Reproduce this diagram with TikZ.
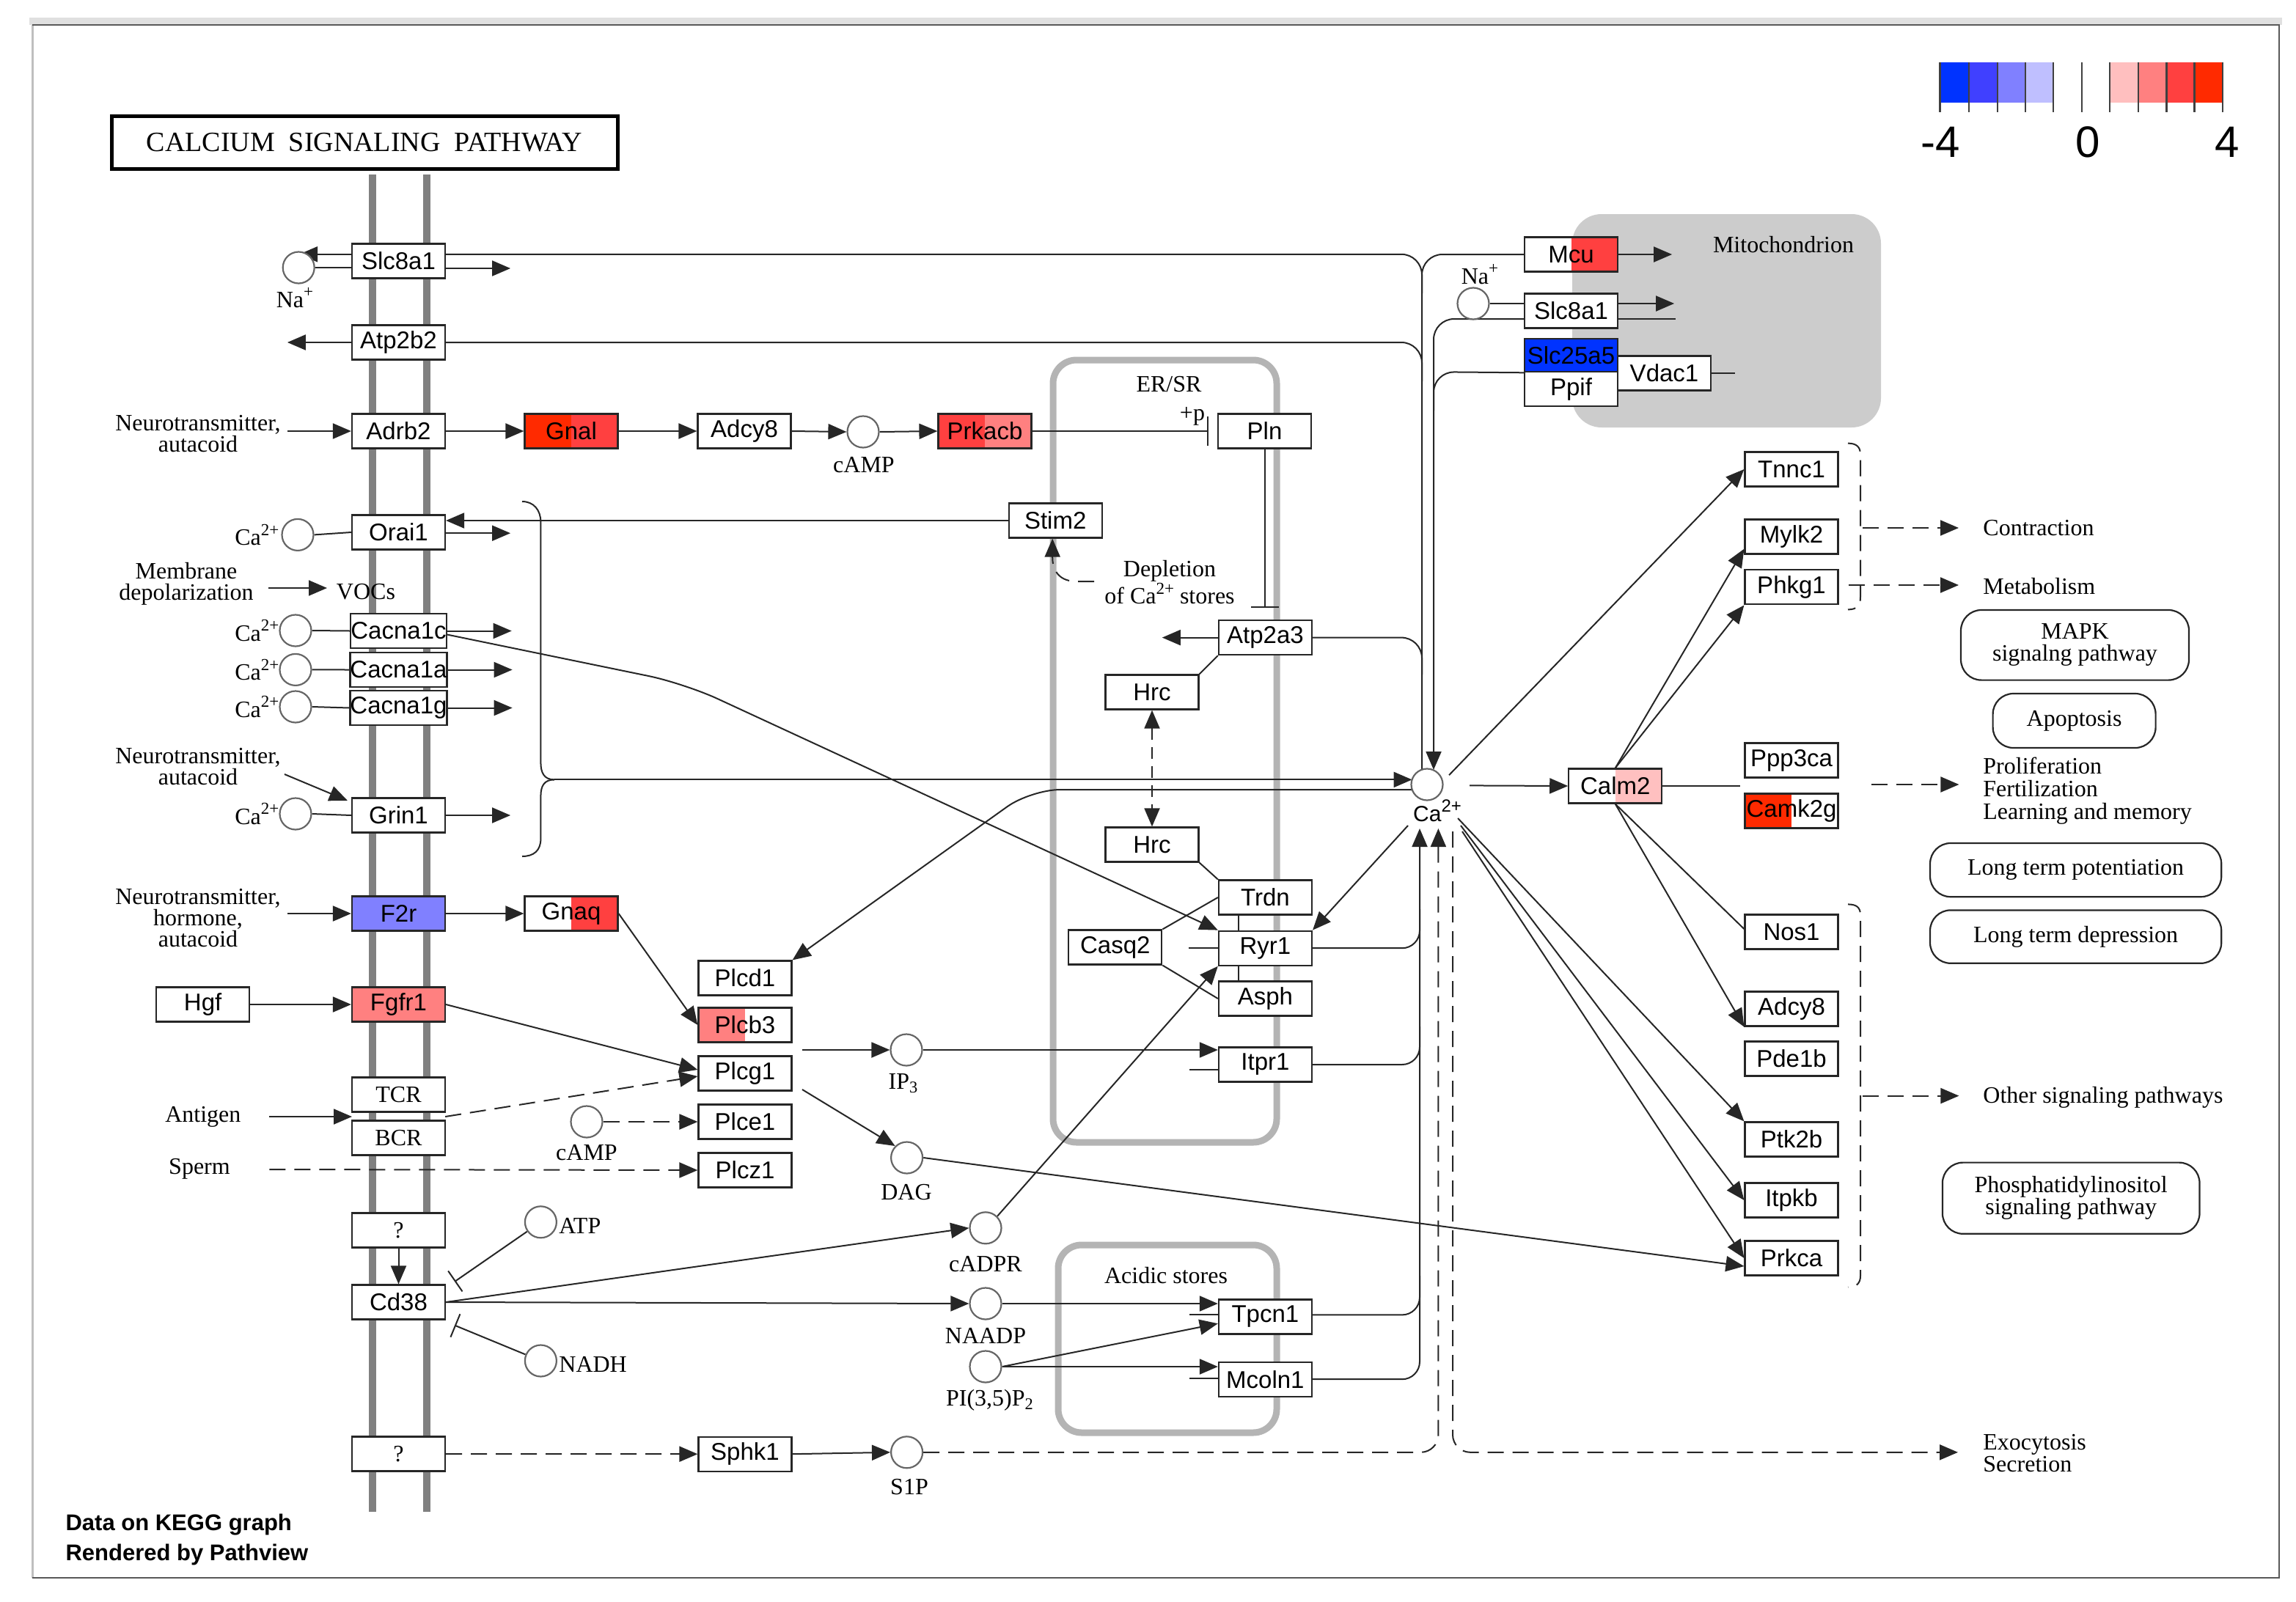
\documentclass[tikz,border=0pt]{standalone}
\usepackage{fontspec}
\setmainfont{Liberation Serif}
\newfontfamily\arialf{Liberation Sans}
\usetikzlibrary{arrows.meta}
\pgfdeclarelayer{bg}
\pgfdeclarelayer{conn}
\pgfsetlayers{bg,conn,main}
\newcommand\upx[1]{\raisebox{0.42em}{\fontsize{11.5}{11.5}\selectfont #1}}
\definecolor{bA}{HTML}{0033FF}
\definecolor{bB}{HTML}{4040FF}
\definecolor{bC}{HTML}{8080FF}
\definecolor{bD}{HTML}{BFBFFF}
\definecolor{rA}{HTML}{FFBFBF}
\definecolor{rB}{HTML}{FF8080}
\definecolor{rC}{HTML}{FF4040}
\definecolor{rD}{HTML}{FF2A00}
\definecolor{pk}{HTML}{FFC0C0}
\definecolor{cmpc}{HTML}{B4B4B4}
\definecolor{mitoc}{HTML}{CCCCCC}
\definecolor{memc}{HTML}{808080}
\tikzset{
 gene/.style={draw=black!85, line width=1.1pt, fill=white, minimum width=63.5pt, minimum height=23.5pt, inner sep=0pt, font=\arialf\fontsize{16.5}{18}\selectfont},
 sgene/.style={gene, font=\fontsize{16}{16}\selectfont},
 lhalf/.style={path picture={\fill[#1] (path picture bounding box.south west) rectangle (path picture bounding box.north);}},
 rhalf/.style={path picture={\fill[#1] (path picture bounding box.south) rectangle (path picture bounding box.north east);}},
 cpd/.style={circle, draw=black!60, line width=1.1pt, fill=white, minimum size=21.5pt, inner sep=0pt},
 lbl/.style={font=\fontsize{16}{14.5}\selectfont, inner sep=0pt, align=center},
 conn/.style={draw=black!85, line width=1pt},
 arr/.style={conn, -{Triangle[length=12.5pt,width=10.5pt]}},
 darr/.style={arr, dash pattern=on 11pt off 6pt},
 dtwo/.style={conn, dash pattern=on 8pt off 5pt, {Triangle[length=12.5pt,width=10.5pt]}-{Triangle[length=12.5pt,width=10.5pt]}},
 dl/.style={conn, dash pattern=on 11pt off 6pt},
 barr/.style={conn, -{Bar[width=17pt]}},
 pw/.style={draw=black!85, line width=1.1pt, rounded corners=14pt, inner sep=0pt, font=\fontsize{16}{15}\selectfont, align=center},
}
\begin{document}
\begin{tikzpicture}[x=1pt,y=-1pt]
\useasboundingbox (0,0) rectangle (1565.5,1092);
\begin{pgfonlayer}{bg}
 \fill[black!12] (20,12) rectangle (1556,17);
 \draw[black!25, line width=1.5pt] (22,17) -- (22,1076);
 \draw[black!65, line width=1.3pt] (22,17) -- (1554,17) -- (1554,1076) -- (22,1076);
 \fill[mitoc, rounded corners=20pt] (1072,146) rectangle (1282.5,291.5);
 \draw[cmpc, line width=4.5pt, rounded corners=16pt] (718,245.5) rectangle (870.5,779);
 \draw[cmpc, line width=4.5pt, rounded corners=16pt] (721.5,849) rectangle (870.5,977);
 \draw[memc, line width=5pt] (254,119) -- (254,1031) (291,119) -- (291,1031);
 % legend
 \fill[bA] (1322.8,42.5) rectangle (1342.5,70);
 \fill[bB] (1342.5,42.5) rectangle (1362,70);
 \fill[bC] (1362,42.5) rectangle (1381,70);
 \fill[bD] (1381,42.5) rectangle (1400,70);
 \fill[rA] (1438.4,42.5) rectangle (1458,70);
 \fill[rB] (1458,42.5) rectangle (1477.3,70);
 \fill[rC] (1477.3,42.5) rectangle (1496.3,70);
 \fill[rD] (1496.3,42.5) rectangle (1515.5,70);
 \foreach \t in {1322.8,1342.5,1362,1381,1400,1419.5,1438.4,1458,1477.3,1496.3,1515.5}
   \draw[black!75, line width=1.2pt] (\t,42.5) -- (\t,76.7);
\end{pgfonlayer}

\node[font=\arialf\fontsize{30}{30}\selectfont, inner sep=0pt] (lm4) at (1323,96.7) {-4};
\node[font=\arialf\fontsize{30}{30}\selectfont, inner sep=0pt] (l0) at (1423.8,96.7) {0};
\node[font=\arialf\fontsize{30}{30}\selectfont, inner sep=0pt] (l4) at (1518.5,96.7) {4};

\node[draw, line width=2.5pt, minimum width=345pt, minimum height=36pt, inner sep=0pt, font=\fontsize{19}{20}\selectfont] (title) at (248.5,97) {CALCIUM\ \ SIGNALING\ \ PATHWAY};

\node[anchor=west, inner sep=0pt, font=\arialf\bfseries\fontsize{15.5}{20.5}\selectfont, align=left] (credit) at (44.6,1050) {Data on KEGG graph\\Rendered by Pathview};

% compartment labels
\node[lbl] (erl) at (797,262) {ER/SR};
\node[lbl] (mitol) at (1216,167) {Mitochondrion};
\node[lbl] (acl) at (795,870) {Acidic stores};
\node[lbl] (depl) at (797.5,397) {Depletion\\of Ca\upx{2+} stores};
\node[lbl] (pl) at (813,284) {+p};

% left labels
\node[lbl] (nt1) at (135,296) {Neurotransmitter,\\autacoid};
\node[lbl] (nt2) at (135,523) {Neurotransmitter,\\autacoid};
\node[lbl] (nt3) at (135,626) {Neurotransmitter,\\hormone,\\autacoid};
\node[lbl] (memd) at (127,398) {Membrane\\depolarization};
\node[lbl] (vocs) at (249.5,403.6) {VOCs};
\node[lbl] (antig) at (138.4,761.5) {Antigen};
\node[lbl] (sperm) at (136,797) {Sperm};

% Ca labels left
\node[lbl, anchor=west] (cl1) at (160,364.7) {Ca\upx{2+}};
\node[lbl, anchor=west] (cl2) at (160,430) {Ca\upx{2+}};
\node[lbl, anchor=west] (cl3) at (160,456.7) {Ca\upx{2+}};
\node[lbl, anchor=west] (cl4) at (160,482) {Ca\upx{2+}};
\node[lbl, anchor=west] (cl5) at (160,555) {Ca\upx{2+}};
\node[lbl] (nal1) at (201,203) {Na\upx{+}};
\node[lbl] (nal2) at (1009,187) {Na\upx{+}};

% compounds
\node[cpd] (na1) at (203.6,182.5) {};
\node[cpd] (caO) at (203,364.7) {};
\node[cpd] (caC1) at (201.5,430) {};
\node[cpd] (caC2) at (201.5,456.7) {};
\node[cpd] (caC3) at (201.5,482) {};
\node[cpd] (caG) at (201.5,555) {};
\node[cpd] (na2) at (1004.5,207) {};
\node[cpd] (ca) at (973,535) {};
\node[cpd] (camp1) at (588.5,294.5) {};
\node[cpd] (ip3) at (618,716) {};
\node[cpd] (dag) at (618.3,789.5) {};
\node[cpd] (camp2) at (400,765) {};
\node[cpd] (atp) at (368.7,833.4) {};
\node[cpd] (nadh) at (368.7,928) {};
\node[cpd] (cadpr) at (672,837.4) {};
\node[cpd] (naadp) at (672,889) {};
\node[cpd] (pip) at (672,932) {};
\node[cpd] (s1p) at (618.3,990.4) {};

\node[font=\arialf\fontsize{15}{15}\selectfont, inner sep=0pt] (cal) at (980,553) {Ca\raisebox{0.45em}{\fontsize{12}{12}\selectfont 2+}};
\node[lbl] (campl1) at (589,317) {cAMP};
\node[lbl] (campl2) at (400,786) {cAMP};
\node[lbl] (ip3l) at (616,739) {IP\textsubscript{3}};
\node[lbl] (dagl) at (618,813) {DAG};
\node[lbl] (cadprl) at (672,862) {cADPR};
\node[lbl] (naadpl) at (672,911) {NAADP};
\node[lbl] (pipl) at (675,955) {PI(3,5)P\textsubscript{2}};
\node[lbl] (s1pl) at (620,1014) {S1P};
\node[lbl, anchor=west] (atpl) at (381,836) {ATP};
\node[lbl, anchor=west] (nadhl) at (381,930.5) {NADH};

% membrane genes
\node[gene] (slcA) at (271.75,178) {Slc8a1};
\node[gene] (atp2b2) at (271.75,233.5) {Atp2b2};
\node[gene] (adrb2) at (271.75,294) {Adrb2};
\node[gene] (orai1) at (271.75,363) {Orai1};
\node[gene] (cacna1c) at (271.75,430.25) {Cacna1c};
\node[gene] (cacna1a) at (271.75,456.75) {Cacna1a};
\node[gene] (cacna1g) at (271.75,482.75) {Cacna1g};
\node[gene] (grin1) at (271.75,556) {Grin1};
\node[gene, fill=bC] (f2r) at (271.75,623) {F2r};
\node[gene, fill=rB] (fgfr1) at (271.75,685) {Fgfr1};
\node[sgene] (tcr) at (271.75,746.5) {TCR};
\node[sgene] (bcr) at (271.75,776) {BCR};
\node[sgene] (q1) at (271.75,839) {?};
\node[gene] (cd38) at (271.75,888) {Cd38};
\node[sgene] (q2) at (271.75,991.5) {?};

% other genes
\node[gene, fill=rD, rhalf=rC] (gnal) at (389.5,294) {Gnal};
\node[gene] (adcy8a) at (507.5,294) {Adcy8};
\node[gene, fill=rB, lhalf=rC] (prkacb) at (671.5,294) {Prkacb};
\node[gene] (pln) at (862.25,294) {Pln};
\node[gene] (stim2) at (719.6,355) {Stim2};
\node[gene] (atp2a3) at (862.7,434.8) {Atp2a3};
\node[gene] (hrc1) at (785.5,472) {Hrc};
\node[gene] (hrc2) at (785.5,576) {Hrc};
\node[gene] (trdn) at (862.7,612) {Trdn};
\node[gene] (ryr1) at (862.7,646.6) {Ryr1};
\node[gene] (asph) at (862.7,681) {Asph};
\node[gene] (casq2) at (760.4,646) {Casq2};
\node[gene] (itpr1) at (862.7,726) {Itpr1};
\node[gene] (tpcn1) at (862.7,898) {Tpcn1};
\node[gene] (mcoln1) at (862.7,940.6) {Mcoln1};
\node[gene, rhalf=rC] (gnaq) at (389.5,623) {Gnaq};
\node[gene] (plcd1) at (508,667) {Plcd1};
\node[gene, lhalf=rB] (plcb3) at (508,699) {Plcb3};
\node[gene] (plcg1) at (508,732) {Plcg1};
\node[gene] (plce1) at (508,765) {Plce1};
\node[gene] (plcz1) at (508,798) {Plcz1};
\node[gene] (hgf) at (138.3,685) {Hgf};
\node[gene] (sphk1) at (508,991.6) {Sphk1};
\node[gene, rhalf=rC] (mcu) at (1071.25,173.5) {Mcu};
\node[gene] (slcB) at (1071.25,212) {Slc8a1};
\node[gene, fill=bA, minimum height=22.6pt] (slc25a5) at (1071.25,242.3) {Slc25a5};
\node[gene, minimum height=23.4pt] (ppif) at (1071.25,265.3) {Ppif};
\node[gene] (vdac1) at (1134.75,254.5) {Vdac1};
\node[gene, rhalf=pk] (calm2) at (1101.4,536) {Calm2};
\node[gene] (tnnc1) at (1221.5,320) {Tnnc1};
\node[gene] (mylk2) at (1221.5,366) {Mylk2};
\node[gene] (phkg1) at (1221.5,400.4) {Phkg1};
\node[gene] (ppp3ca) at (1221.5,518.5) {Ppp3ca};
\node[gene, lhalf=rD] (camk2g) at (1221.5,553) {Camk2g};
\node[gene] (nos1) at (1221.5,635.5) {Nos1};
\node[gene] (adcy8b) at (1221.5,688) {Adcy8};
\node[gene] (pde1b) at (1221.5,722) {Pde1b};
\node[gene] (ptk2b) at (1221.5,777) {Ptk2b};
\node[gene] (itpkb) at (1221.5,818.5) {Itpkb};
\node[gene] (prkca) at (1221.5,858) {Prkca};

% pathway boxes and outcome labels
\node[pw, minimum width=155.5pt, minimum height=47.8pt] (mapk) at (1414.75,439.9) {MAPK\\signalng pathway};
\node[pw, minimum width=111pt, minimum height=37pt] (apop) at (1414.3,491.5) {Apoptosis};
\node[pw, minimum width=198.6pt, minimum height=36.6pt] (ltp) at (1415.3,593.3) {Long term potentiation};
\node[pw, minimum width=198.6pt, minimum height=36.2pt] (ltd) at (1415.3,638.8) {Long term depression};
\node[pw, minimum width=175.3pt, minimum height=48.6pt] (pis) at (1412.1,817.1) {Phosphatidylinositol\\signaling pathway};
\node[lbl, anchor=west] (contr) at (1352,360) {Contraction};
\node[lbl, anchor=west] (metab) at (1352,400) {Metabolism};
\node[lbl, anchor=west, align=left, font=\fontsize{16}{15.3}\selectfont] (prolif) at (1352,539.3) {Proliferation\\Fertilization\\Learning and memory};
\node[lbl, anchor=west] (other) at (1352,748.5) {Other signaling pathways};
\node[lbl, anchor=west, align=left, font=\fontsize{16}{15.4}\selectfont] (exo) at (1352,991) {Exocytosis\\Secretion};

% free-end coordinates
\coordinate (brm) at (378,531.7);
\coordinate (cain) at (962.8,531.7);
\coordinate (plnbar) at (862.25,414.7);
\coordinate (pkbar) at (824,294);

\begin{pgfonlayer}{conn}
% Slc8a1 / Atp2b2 (plasma membrane)
\draw[arr] ([yshift=4.6pt]slcA.west) -- (204,173.4);
\draw[conn] (na1.east) -- (na1.east -| slcA.west);
\draw[arr] ([yshift=-5pt]slcA.east) -- ++(44,0);
\draw[conn, rounded corners=14pt] ([yshift=4.6pt]slcA.east) -- (969.5,173.4) -- (969.5,525);
\draw[conn, rounded corners=14pt] (mcu.west) -- (969.5,173.5) -- (969.5,200);
\draw[arr] (atp2b2.west) -- ++(-43.5,0);
\draw[conn, rounded corners=14pt] (atp2b2.east) -- (969.5,233.5) -- (969.5,260);
% mitochondrion
\draw[arr] (mcu.east) -- ++(36.5,0);
\draw[conn] (na2.east) -- (na2.east -| slcB.west);
\draw[arr] ([yshift=5pt]slcB.east) -- ++(38,0);
\draw[arr, rounded corners=14pt] ([yshift=-5.5pt]slcB.west) -- (977.5,217.5) -- (977.5,525);
\draw[conn] ([yshift=-5.5pt]slcB.east) -- ++(39,0);
\draw[conn, rounded corners=14pt] (slc25a5.south west) -- (977.5,253.6) -- (977.5,280);
\draw[conn] (vdac1.east) -- ++(16,0);
% Adrb2 pathway
\draw[arr] (196,294) -- (adrb2.west);
\draw[arr] (adrb2.east) -- (gnal.west);
\draw[arr] (gnal.east) -- (adcy8a.west);
\draw[arr] (adcy8a.east) -- (camp1.west);
\draw[arr] (camp1.east) -- (prkacb.west);
\draw[conn, -{Bar[width=20pt]}] (prkacb.east) -- (pkbar);
\draw[conn, -{Bar[width=19pt]}] (pln.south) -- (plnbar);
% Orai1 / Stim2
\draw[conn] (caO.east) -- (orai1.west);
\draw[arr] (stim2.west) -- (stim2.west -| orai1.east);
\draw[arr] ([yshift=-0.6pt]orai1.east) -- ++(44,0);
\draw[darr] (746,396.5) -- (734,396.5) .. controls (723,396.5) and (717.6,390) .. (717.6,380) -- ([xshift=-2pt]stim2.south);
% VOCs
\draw[arr] (183,401) -- (223,401);
\draw[conn] (caC1.east) -- (cacna1c.west);
\draw[conn] (caC2.east) -- (cacna1a.west);
\draw[conn] (caC3.east) -- (cacna1g.west);
\draw[arr] (cacna1c.east) -- ++(44,0);
\draw[arr] (cacna1a.east) -- ++(44,0);
\draw[arr] (cacna1g.east) -- ++(44,0);
\draw[arr, rounded corners=25pt] ([yshift=-2.5pt]cacna1c.east) -- (466.5,466) -- (ryr1.north west);
% Grin1
\draw[arr] (194,528) -- (237,546);
\draw[conn] (caG.east) -- (grin1.west);
\draw[arr] (grin1.east) -- ++(44,0);
% brace and Ca inflow
\draw[conn] (356,342) .. controls (364,342) and (368.7,348) .. (368.7,356) -- (368.7,520) .. controls (368.7,527) and (371,531.7) .. (brm);
\draw[conn] (brm) .. controls (371,531.7) and (368.7,536) .. (368.7,543) -- (368.7,572) .. controls (368.7,580) and (364,584) .. (356,584);
\draw[arr] (brm) -- (cain);
\draw[arr, rounded corners=20pt] (962.5,538.5) -- (703,538.5) -- (plcd1.north east);
% ER
\draw[arr] (atp2a3.west) -- ++(-38,0);
\draw[conn, rounded corners=14pt] (atp2a3.east) -- (969.5,434.8) -- (969.5,460);
\draw[conn] (atp2a3.south west) -- (hrc1.north east);
\draw[dtwo] (hrc1.south) -- (hrc2.north);
\draw[conn] (hrc2.south east) -- (trdn.north west);
\draw[conn] ([xshift=14pt]trdn.south west) -- ([xshift=14pt]ryr1.north west);
\draw[conn] ([xshift=14pt]ryr1.south west) -- ([xshift=14pt]asph.north west);
\draw[conn] (casq2.north east) -- (trdn.west);
\draw[conn] (casq2.south east) -- (asph.west);
\draw[conn] ([xshift=-20pt]ryr1.west) -- (ryr1.west);
\draw[conn, rounded corners=12pt] (ryr1.east) -- (968,646.6) -- (968,620);
\draw[conn, rounded corners=12pt] (itpr1.east) -- (968,726) -- (968,700);
\draw[conn, rounded corners=12pt] ([yshift=1.3pt]tpcn1.east) -- (968,896.7) -- (968,870);
\draw[arr, rounded corners=12pt] (mcoln1.east) -- (968,940.6) -- (968,565);
\draw[arr] (960,563) -- (ryr1.north east);
\draw[darr, rounded corners=12pt] (s1p.east) -- (980.7,990.4) -- (980.7,565);
\draw[darr, rounded corners=12pt] (990.5,567) -- (990.5,990.4) -- (1335,990.4);
% F2r, Fgfr1, PLCs
\draw[arr] (196,623) -- (f2r.west);
\draw[arr] (f2r.east) -- (gnaq.west);
\draw[arr] (gnaq.east) -- (plcb3.west);
\draw[arr] (hgf.east) -- (fgfr1.west);
\draw[arr] (fgfr1.east) -- ([yshift=2.5pt]plcg1.west);
\draw[arr] (183.7,761.5) -- (240,761.5);
\draw[darr] (303.6,761.5) -- ([yshift=-2pt]plcg1.west);
\draw[darr] (183.7,797.5) -- (plcz1.west);
\draw[darr] (camp2.east) -- (plce1.west);
\draw[arr] (547,716) -- (ip3.west);
\draw[arr] (ip3.east) -- (ip3.east -| itpr1.west);
\draw[conn] (811,729.5) -- (831,729.5);
\draw[arr] (547,743) -- (dag.north west);
\draw[arr] (dag.east) -- ([yshift=-5.5pt]prkca.west);
% Cd38
\draw[arr] (q1.south) -- (cd38.north);
\draw[barr] (atp) -- (310,874);
\draw[barr] (nadh) -- (310,903.8);
\draw[arr] (cd38.east) -- (cadpr.west);
\draw[arr] (cd38.east) -- (naadp.west);
\draw[arr] (cadpr.north east) -- (ryr1.south west);
\draw[arr] (naadp.east) -- (naadp.east -| tpcn1.west);
\draw[arr] (pip.east) -- ([yshift=-4.6pt]tpcn1.west);
\draw[conn] (811,896.7) -- (831,896.7);
\draw[arr] (pip.east) -- (pip.east -| mcoln1.west);
\draw[conn] (811,940) -- (831,940);
\draw[darr] (q2.east) -- (sphk1.west);
\draw[arr] (sphk1.east) -- (s1p.west);
% right side
\draw[arr] (1002,535.7) -- (calm2.west);
\draw[arr] (988,528.6) -- (tnnc1.west);
\draw[arr] (calm2.north) -- ([yshift=4pt]mylk2.south west);
\draw[arr] (calm2.north) -- (phkg1.south west);
\draw[conn] (calm2.south) -- ([yshift=2pt]nos1.west);
\draw[arr] (calm2.south) -- (adcy8b.south west);
\draw[arr] (994,558) -- (ptk2b.north west);
\draw[arr] (996,563) -- (itpkb.west);
\draw[arr] (997,567) -- (prkca.west);
\draw[conn] (calm2.east) -- (1186.6,536);
\draw[darr] (1276,535) -- (1335.7,535);
\draw[dl] (1260,302.3) .. controls (1266,302.3) and (1268.5,305) .. (1268.5,310) -- (1268.5,407) .. controls (1268.5,413) and (1266,415.7) .. (1260,415.7);
\draw[darr] (1270,360) -- (1335.5,360);
\draw[darr] (1260.6,399) -- (1335.5,399);
\draw[dl] (1260,616.7) .. controls (1266,616.7) and (1268.5,619) .. (1268.5,624) -- (1268.5,870) .. controls (1268.5,875) and (1266,877.8) .. (1260,877.8);
\draw[darr] (1270,747.3) -- (1335.7,747.3);
\end{pgfonlayer}
\end{tikzpicture}
\end{document}
